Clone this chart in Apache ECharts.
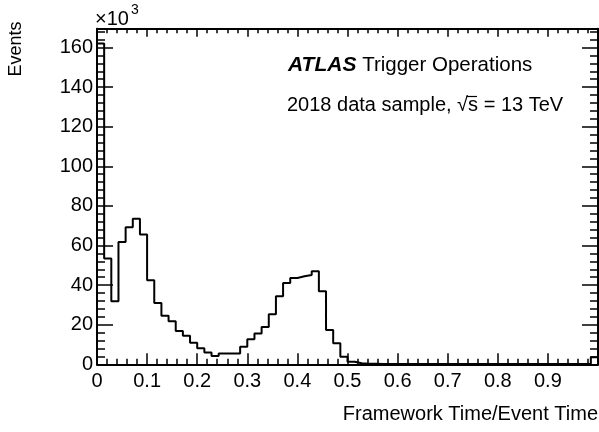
<!DOCTYPE html>
<html>
<head>
<meta charset="utf-8">
<script src="https://cdn.jsdelivr.net/npm/echarts@6/dist/echarts.min.js"></script>
<style>
html,body{margin:0;padding:0;background:#fff;}
#chart{width:599px;height:432px;}
</style>
</head>
<body>
<div id="chart"></div>
<script>
// Histogram: 70 bins from 0 to 1 (Framework Time / Event Time), counts in units of 10^3
const xMin = 0;
const xMax = 1;
const nBins = 70;
const binCounts = [
  162.0, 53.4, 31.9, 61.8, 69.2, 73.5, 65.5, 42.5, 30.9, 24.5,
  21.8, 16.8, 14.4, 10.9, 8.1, 5.9, 4.2, 5.5, 5.5, 5.5,
  8.9, 12.6, 15.5, 18.9, 25.3, 34.4, 41.1, 43.6, 44.5, 45.1,
  47.0, 36.9, 17.3, 10.6, 3.8, 1.3, 0.5, 0.3, 0.3, 0.2,
  0.2, 0.2, 0.2, 0.2, 0.2, 0.2, 0.2, 0.2, 0.2, 0.2,
  0.2, 0.2, 0.2, 0.2, 0.2, 0.2, 0.2, 0.2, 0.2, 0.2,
  0.2, 0.2, 0.2, 0.2, 0.2, 0.2, 0.2, 0.2, 0.2, 3.5
];
const yMax = 169.5;
const xTitle = 'Framework Time/Event Time';
const yTitle = 'Events';
const line1Bold = 'ATLAS';
const line1Rest = 'Trigger Operations';
const line2a = '2018 data sample, ';
const line2b = '\u221As';
const line2c = ' = 13 TeV';

const FONT = 'Liberation Sans, Arial, Helvetica, sans-serif';
const binWidth = (xMax - xMin) / nBins;
const stepData = [[xMin, 0]];
binCounts.forEach((v, i) => stepData.push([xMin + i * binWidth, v]));
stepData.push([xMax, binCounts[binCounts.length - 1]]);
stepData.push([xMax, 0]);

const chart = echarts.init(document.getElementById('chart'), null, {renderer: 'canvas'});
const black = '#000';
function xAx(pos, major, minor, showLabel) {
  return {
    type: 'value', position: pos, min: xMin, max: xMax, interval: 0.1,
    axisLine: {show: true, onZero: false, lineStyle: {color: black, width: 2}},
    axisTick: {show: true, inside: true, length: major, lineStyle: {color: black, width: 1.5}},
    minorTick: {show: true, splitNumber: 5, length: minor, lineStyle: {color: black, width: 1.5}},
    splitLine: {show: false}, minorSplitLine: {show: false},
    axisLabel: {show: showLabel, color: black, fontFamily: FONT, fontSize: 20, margin: 7, showMaxLabel: false}
  };
}
function yAx(pos, interval, len, showLine, showLabel) {
  return {
    type: 'value', position: pos, min: 0, max: yMax, interval: interval,
    axisLine: {show: showLine, onZero: false, lineStyle: {color: black, width: 2}},
    axisTick: {show: true, inside: true, length: len, lineStyle: {color: black, width: 1.5}},
    splitLine: {show: false},
    axisLabel: {show: showLabel, color: black, fontFamily: FONT, fontSize: 20, margin: 4,
      formatter: v => (Math.abs(v % 20) < 1e-9 ? String(v) : '')}
  };
}

const txt = {fontFamily: FONT, fontSize: 20, color: black};
chart.setOption({
  animation: false,
  backgroundColor: '#fff',
  grid: {left: 97, right: 1, top: 28.7, bottom: 67.7},
  xAxis: [xAx('bottom', 11, 5.5, true), xAx('top', 8, 4.5, false)],
  yAxis: [
    yAx('left', 20, 16, true, true),
    yAx('left', 4, 8, false, false),
    yAx('right', 20, 16, true, false),
    yAx('right', 4, 8, false, false)
  ],
  series: [{
    type: 'line', xAxisIndex: 0, yAxisIndex: 0, step: 'end', data: stepData,
    symbol: 'none', clip: false, z: 5,
    lineStyle: {color: black, width: 2}
  }],
  graphic: [
    {type: 'text', left: 95, top: 9, style: {text: '\u00D710', fill: black, font: '20px ' + FONT}},
    {type: 'text', left: 131, top: 3, style: {text: '3', fill: black, font: '14px ' + FONT}},
    {type: 'text', x: 16, y: 49, rotation: Math.PI / 2,
      style: {text: yTitle, fill: black, font: '18px ' + FONT, align: 'center', verticalAlign: 'middle'}},
    {type: 'text', x: 598, y: 414, style: {text: xTitle, fill: black, font: '20px ' + FONT, align: 'right', verticalAlign: 'middle'}},
    {type: 'text', x: 288, y: 65, style: {
      text: '{b|' + line1Bold + '}{n| ' + line1Rest + '}', verticalAlign: 'middle',
      rich: {
        b: {fontFamily: FONT, fontSize: 21, fontWeight: 'bold', fontStyle: 'italic', color: black},
        n: {fontFamily: FONT, fontSize: 20.5, color: black}
      }
    }},
    {type: 'text', x: 287, y: 105.5, style: {
      text: '{t|' + line2a + '}{r|' + line2b + '}{t|' + line2c + '}', verticalAlign: 'middle',
      rich: {t: txt, r: txt}
    }},
    {type: 'line', shape: {x1: 466.5, y1: 96.5, x2: 477, y2: 96.5}, style: {stroke: black, lineWidth: 1.2}}
  ]
});
</script>
</body>
</html>
